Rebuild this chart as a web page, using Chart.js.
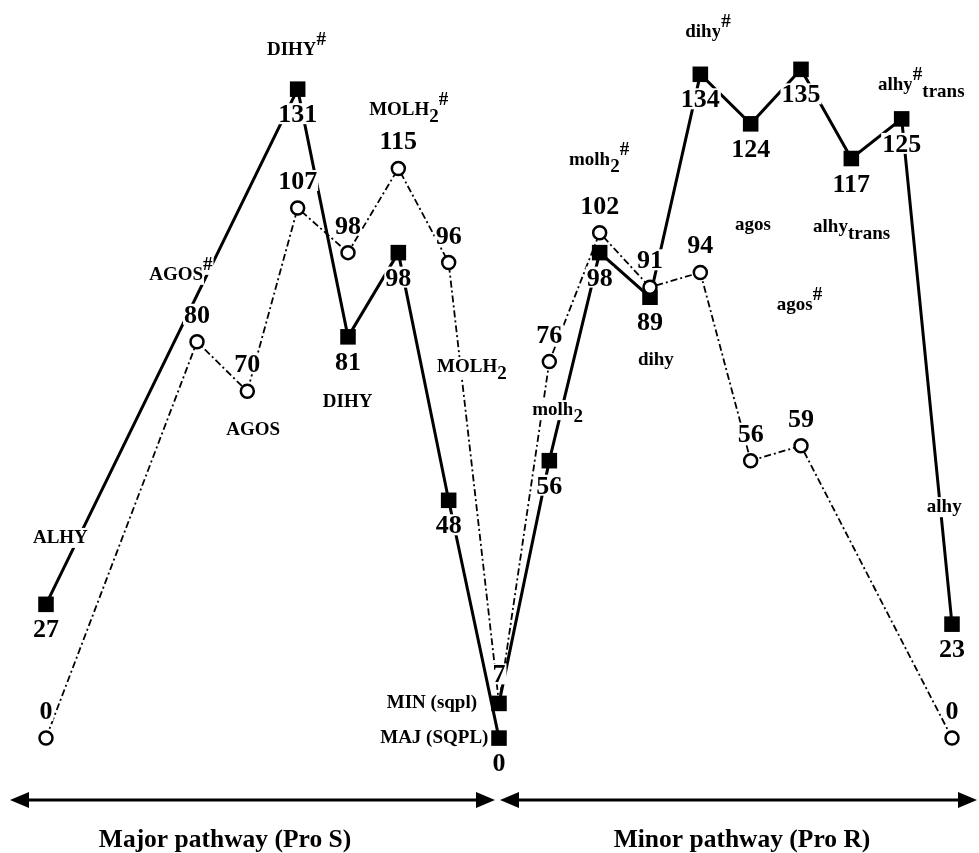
<!DOCTYPE html>
<html>
<head>
<meta charset="utf-8">
<script src="https://cdn.jsdelivr.net/npm/chart.js@4"></script>
<style>
  html, body { margin: 0; padding: 0; background: #fff; }
  #wrap { width: 979px; height: 853px; position: relative; }
</style>
</head>
<body>
<div id="wrap"><canvas id="myChart"></canvas></div>
<script>
// reaction coordinate: blank slots only keep the spacing of the drawing
const stages = ["ALHY", "", "", "AGOS#", "AGOS", "DIHY#", "DIHY", "MOLH2#", "MOLH2", "SQPL",
                "molh2", "molh2#", "dihy", "dihy#", "agos", "agos#", "alhy trans", "alhy# trans", "alhy"];

// filled squares, solid line (major pathway ends in MAJ, minor starts in MIN)
const majorSquares = [27, null, null, null, null, 131, 81, 98, 48, 0,
                      null, null, null, null, null, null, null, null, null];
const minorSquares = [null, null, null, null, null, null, null, null, null, 7,
                      56, 98, 89, 134, 124, 135, 117, 125, 23];
// open circles, dash-dot line
const openCircles = [0, null, null, 80, 70, 107, 98, 115, 96, 7,
                     76, 102, 91, 94, 56, 59, null, null, 0];

// species names written on the diagram (^ = superscript, _ = subscript)
const speciesNames = ["ALHY", "AGOS^#", "AGOS", "DIHY^#", "DIHY", "MOLH_2^#", "MOLH_2",
                      "MIN (sqpl)", "MAJ (SQPL)", "molh_2", "molh_2^#", "dihy", "dihy^#",
                      "agos", "agos^#", "alhy_trans", "alhy^#_trans", "alhy"];
// where each name starts: [stage position, energy] of its left end / baseline
const speciesAt = [[-0.26, 39.4], [2.05, 92.5], [3.58, 61.2], [4.39, 137.9], [5.50, 66.8],
                   [6.42, 125.8], [7.77, 73.9], [6.77, 6.1], [6.64, -1.0], [9.66, 65.2],
                   [10.39, 115.7], [11.76, 75.3], [12.70, 141.5], [13.69, 102.5], [14.52, 86.4],
                   [15.24, 102.1], [16.53, 130.8], [17.50, 45.6]];

const pathTitles = ["Major pathway (Pro S)", "Minor pathway (Pro R)"];

const serif = '"Liberation Serif", "Times New Roman", serif';

function boxText(ctx, txt, x, base, h) {
  const w = ctx.measureText(txt).width;
  ctx.fillStyle = '#fff';
  ctx.fillRect(x - w / 2 - 1, base - h - 1, w + 2, h + 3);
  ctx.fillStyle = '#000';
  ctx.fillText(txt, x, base);
}

function parseName(s) {
  const parts = [];
  const re = /([\^_])([^\^_]+)|([^\^_]+)/g;
  let m;
  while ((m = re.exec(s)) !== null) {
    if (m[3]) parts.push([m[3], 0]);
    else parts.push([m[2], m[1] === '^' ? -10 : 7]);
  }
  return parts;
}

function arrow(ctx, x1, x2, yy) {
  ctx.lineWidth = 3;
  ctx.beginPath();
  ctx.moveTo(x1 + 15, yy);
  ctx.lineTo(x2 - 15, yy);
  ctx.stroke();
  ctx.beginPath();
  ctx.moveTo(x1, yy); ctx.lineTo(x1 + 19, yy - 8); ctx.lineTo(x1 + 19, yy + 8); ctx.closePath();
  ctx.moveTo(x2, yy); ctx.lineTo(x2 - 19, yy - 8); ctx.lineTo(x2 - 19, yy + 8); ctx.closePath();
  ctx.fill();
}

const labelPlugin = {
  id: 'energyLabels',
  afterDatasetsDraw(chart) {
    const ctx = chart.ctx;
    const xs = chart.scales.x, ys = chart.scales.y;
    ctx.save();
    ctx.fillStyle = '#000';
    ctx.strokeStyle = '#000';

    // energies next to each marker
    ctx.font = 'bold 26px ' + serif;
    ctx.textAlign = 'center';
    ctx.textBaseline = 'alphabetic';
    chart.data.datasets.forEach((ds, i) => {
      const meta = chart.getDatasetMeta(i);
      meta.data.forEach((pt, j) => {
        const v = ds.data[j];
        if (v === null || v === undefined) return;
        const isCircle = ds.pointStyle === 'circle';
        if (isCircle && stages[j] === 'SQPL') return;
        let base;
        if (isCircle) base = pt.y - 19;
        else if (stages[j] === 'SQPL' && v > 0) base = pt.y - 21;
        else base = pt.y + 33;
        boxText(ctx, String(v), pt.x, base, 18);
      });
    });

    // species names
    ctx.font = 'bold 19px ' + serif;
    ctx.textAlign = 'left';
    speciesNames.forEach((name, k) => {
      let x = xs.getPixelForValue(speciesAt[k][0]);
      const base = ys.getPixelForValue(speciesAt[k][1]);
      parseName(name).forEach(([txt, dy]) => {
        const w = ctx.measureText(txt).width;
        ctx.fillStyle = '#fff';
        ctx.fillRect(x - 1, base + dy - 15, w + 2, 20);
        ctx.fillStyle = '#000';
        ctx.fillText(txt, x, base + dy);
        x += w;
      });
    });

    // pathway arrows and captions
    arrow(ctx, 10, 495, 800);
    arrow(ctx, 500, 977, 800);
    ctx.font = 'bold 25.5px ' + serif;
    ctx.textAlign = 'center';
    ctx.fillText(pathTitles[0], 225, 847);
    ctx.fillText(pathTitles[1], 742, 847);
    ctx.restore();
  }
};

new Chart("myChart", {
  type: "line",
  data: {
    labels: stages,
    datasets: [{
      data: openCircles,
      borderColor: "#000",
      borderWidth: 1.8,
      borderDash: [7, 3, 2, 3],
      pointStyle: "circle",
      pointRadius: ctx => stages[ctx.dataIndex] === 'SQPL' ? 0 : 6.5,
      pointBorderWidth: 2.5,
      pointBackgroundColor: "#fff",
      pointBorderColor: "#000",
      spanGaps: true,
      clip: false
    }, {
      data: majorSquares,
      borderColor: "#000",
      borderWidth: 3,
      pointStyle: "rect",
      pointRadius: 11,
      pointBorderWidth: 0,
      pointBackgroundColor: "#000",
      spanGaps: true,
      clip: false
    }, {
      data: minorSquares,
      borderColor: "#000",
      borderWidth: 3,
      pointStyle: "rect",
      pointRadius: 11,
      pointBorderWidth: 0,
      pointBackgroundColor: "#000",
      spanGaps: true,
      clip: false
    }]
  },
  options: {
    responsive: true,
    maintainAspectRatio: false,
    animation: false,
    layout: { autoPadding: false, padding: { left: 46, right: 27, top: 0, bottom: 0 } },
    plugins: { legend: { display: false }, tooltip: { enabled: false } },
    scales: {
      x: { type: "category", offset: false, display: false },
      y: { type: "linear", min: -23.2, max: 149.0, display: false }
    }
  },
  plugins: [labelPlugin]
});
</script>
</body>
</html>
